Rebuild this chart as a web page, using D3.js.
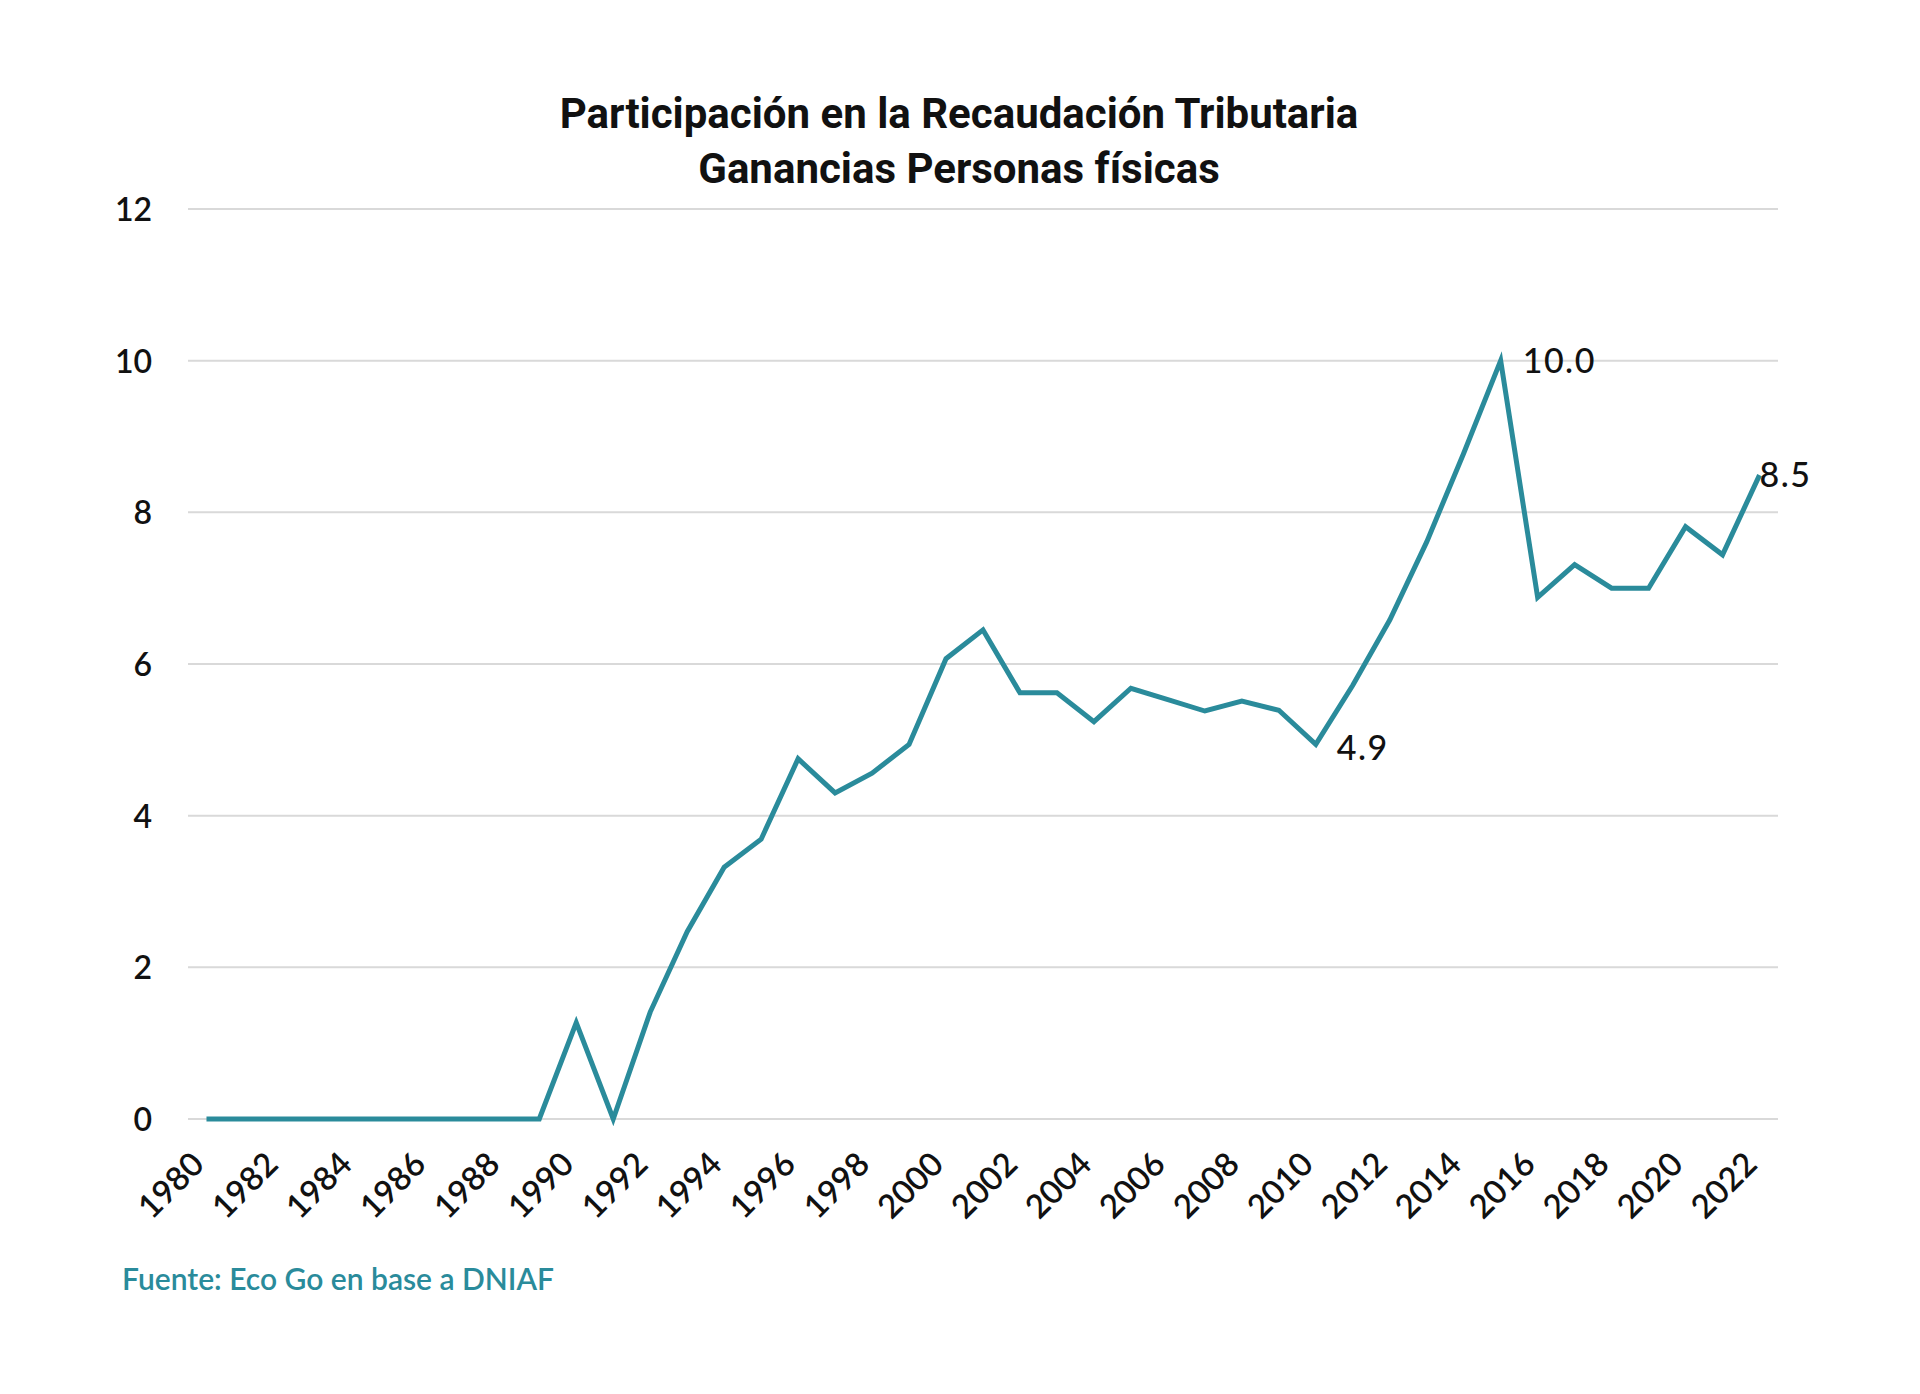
<!DOCTYPE html>
<html><head><meta charset="utf-8">
<script src="https://cdn.jsdelivr.net/npm/d3@7"></script>
<style>
html,body{margin:0;padding:0;background:#fff;}
svg{display:block;}
</style></head>
<body>
<svg id="chart" width="1920" height="1394"></svg>
<script>
const years = d3.range(1980, 2023);
const values = [0,0,0,0,0,0,0,0,0,0,1.27,0,1.41,2.47,3.32,3.69,4.75,4.30,4.56,4.94,6.07,6.45,5.62,5.62,5.24,5.68,5.53,5.38,5.51,5.39,4.94,5.72,6.58,7.61,8.78,10.0,6.88,7.31,7.0,7.0,7.81,7.44,8.49];
const yTicks = [0,2,4,6,8,10,12];
const xTickYears = d3.range(1980, 2023, 2);
const titleLines = ["Participación en la Recaudación Tributaria","Ganancias Personas físicas"];
const sourceText = "Fuente: Eco Go en base a DNIAF";
const annotations = [{year:2015,label:"10.0",dx:22,dy:12},{year:2010,label:"4.9",dx:21,dy:16},{year:2022,label:"8.5",dx:0,dy:12}];

(function(){
const data = years.map((yr,i)=>({year:yr, value:values[i]}));
const svg = d3.select("#chart");
const pLeft = 188, pRight = 1778, pTop = 209, pBottom = 1119;
const x = d3.scalePoint().domain(years).range([pLeft, pRight]).padding(0.5);
const y = d3.scaleLinear().domain([0,12]).range([pBottom, pTop]);
const font = "Lato, 'Noto Sans', sans-serif";

svg.append("rect").attr("width",1920).attr("height",1394).attr("fill","#fff");

svg.append("g").selectAll("line").data(yTicks).join("line")
  .attr("x1",pLeft).attr("x2",pRight)
  .attr("y1",d=>y(d)).attr("y2",d=>y(d))
  .attr("stroke","#d9d9d9").attr("stroke-width",2);

const yAxis = d3.axisLeft(y).tickValues(yTicks).tickSize(0).tickPadding(0).tickFormat(d3.format("d"));
const gy = svg.append("g").attr("transform",`translate(152,0)`).call(yAxis);
gy.select(".domain").remove();
gy.selectAll("text").attr("font-family",font).attr("font-size",32).attr("font-weight",600)
  .attr("fill","#111").attr("dy","0.36em");

const xAxis = d3.axisBottom(x).tickValues(xTickYears).tickSize(0).tickPadding(0);
const gx = svg.append("g").attr("transform",`translate(0,1156)`).call(xAxis);
gx.select(".domain").remove();
gx.selectAll("text").attr("font-family",font).attr("font-size",33).attr("font-weight",600).attr("fill","#111")
  .attr("text-anchor","end").attr("dy","0.2em").attr("dx","-8")
  .attr("transform","rotate(-45)");

const line = d3.line().x(d=>x(d.year)).y(d=>y(d.value));
svg.append("path").datum(data).attr("d",line)
  .attr("fill","none").attr("stroke","#2a8b9b").attr("stroke-width",5)
  .attr("stroke-linejoin","miter").attr("stroke-linecap","butt");

svg.append("g").selectAll("text").data(annotations).join("text")
  .attr("x",d=>x(d.year)+d.dx)
  .attr("y",d=>y(values[years.indexOf(d.year)])+d.dy)
  .attr("font-family",font).attr("font-size",34).attr("font-weight",500).attr("letter-spacing",1.5)
  .attr("fill","#111")
  .text(d=>d.label);

svg.append("g").selectAll("text").data(titleLines).join("text")
  .attr("x",959).attr("y",(d,i)=>128+i*55)
  .attr("text-anchor","middle")
  .attr("font-family","Roboto, sans-serif").attr("font-weight",700).attr("font-size",42)
  .attr("fill","#111").text(d=>d);

svg.append("text").attr("x",122).attr("y",1290)
  .attr("font-family",font).attr("font-size",30).attr("font-weight",600).attr("fill","#2a8b9b")
  .text(sourceText);
})();
</script>
</body></html>
